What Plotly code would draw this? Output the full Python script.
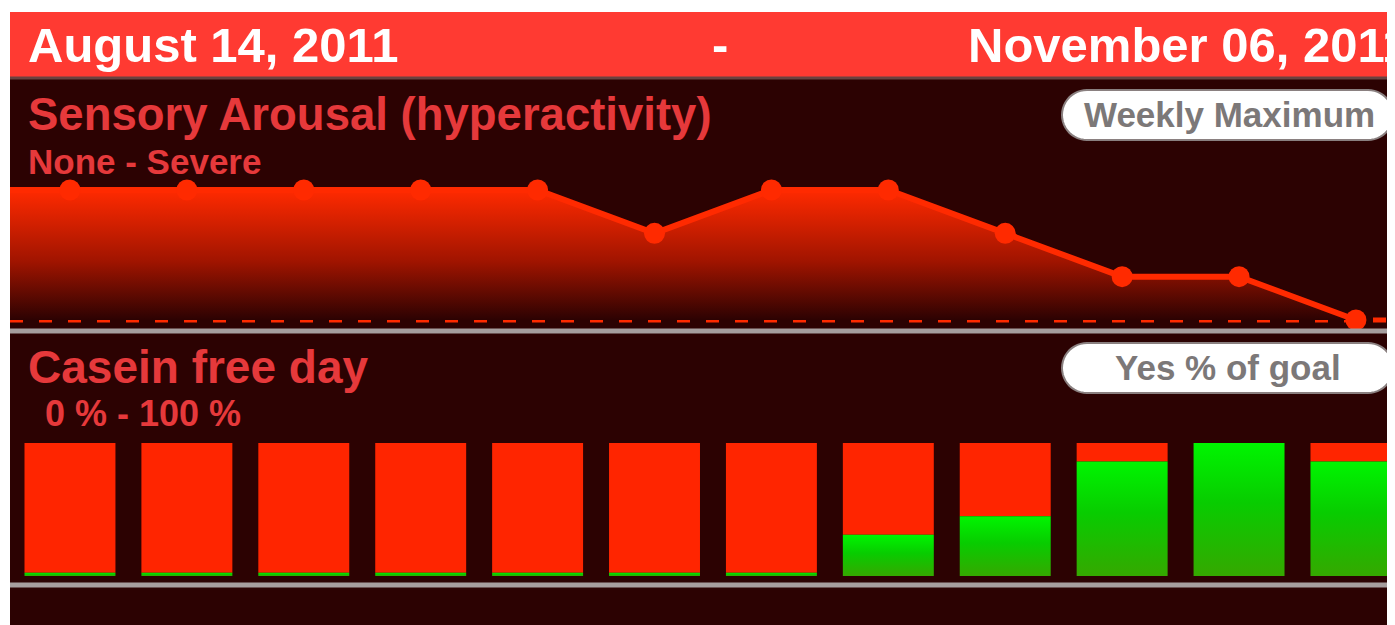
import plotly.graph_objects as go

# ---------------- data ----------------
weeks = ["Aug 14", "Aug 21", "Aug 28", "Sep 04", "Sep 11", "Sep 18",
         "Sep 25", "Oct 02", "Oct 09", "Oct 16", "Oct 23", "Oct 30"]
arousal_max = [3, 3, 3, 3, 3, 2, 3, 3, 2, 1, 1, 0]   # 0 = None ... 3 = Severe
arousal_prev_week = 3                                 # value before the first week (line enters from left)
casein_yes_pct = [2.5, 2.5, 2.5, 2.5, 2.5, 2.5, 2.5, 31, 45, 86, 100, 86]

date_start = "August 14, 2011"
date_end = "November 06, 2011"
title1 = "Sensory Arousal (hyperactivity)"
sub1 = "None - Severe"
pill1 = "Weekly Maximum"
title2 = "Casein free day"
sub2 = "0 % - 100 %"
pill2 = "Yes % of goal"

# ---------------- geometry helpers ----------------
# the page body has an 8px margin, so the figure starts at page pixel (8, 8)
OFF = 8
W, H = 1395 - OFF, 625 - OFF


def px(x):
    return (x - OFF) / W


def py(y):
    return 1 - (y - OFF) / H


RED = "#ff2a00"
DARK = "#2c0202"
TXT_RED = "#e6393b"
FONT = "Liberation Sans, Arial, Helvetica, sans-serif"

xi = list(range(len(weeks)))
x_range = [-0.513, 11.334]

fig = go.Figure()

# --- top panel: area with gradient ---
fig.add_trace(go.Scatter(
    x=[-1] + xi, y=[arousal_prev_week] + arousal_max,
    mode="lines", line=dict(color=RED, width=6),
    fill="tozeroy",
    fillgradient=dict(type="vertical",
                      colorscale=[[0, DARK], [0.45, "#a01400"], [1, RED]],
                      start=0, stop=3),
    xaxis="x", yaxis="y", hoverinfo="skip", showlegend=False))
fig.add_trace(go.Scatter(
    x=xi, y=arousal_max, mode="markers",
    marker=dict(color=RED, size=21, line=dict(width=0)),
    cliponaxis=False, xaxis="x", yaxis="y", showlegend=False,
    text=weeks))

# --- bottom panel: stacked bars ---
bw = 0.778
fig.add_trace(go.Bar(
    x=xi, y=[100 - g for g in casein_yes_pct], base=casein_yes_pct,
    width=bw, marker=dict(color="#ff2500", line=dict(width=0)),
    xaxis="x2", yaxis="y2", showlegend=False))
for i, g in zip(xi, casein_yes_pct):
    fig.add_trace(go.Scatter(
        x=[i - bw / 2, i + bw / 2, i + bw / 2, i - bw / 2, i - bw / 2],
        y=[0, 0, g, g, 0], mode="lines", line=dict(width=0),
        fill="toself",
        fillgradient=dict(type="vertical",
                          colorscale=[[0, "#35a800"], [0.55, "#08cc00"], [1, "#00f500"]]),
        xaxis="x2", yaxis="y2", hoverinfo="skip", showlegend=False))

# ---------------- layout / chrome ----------------
shapes = [
    # dark body
    dict(type="rect", xref="paper", yref="paper", x0=px(10), x1=1, y0=0, y1=py(77),
         fillcolor=DARK, line=dict(width=0), layer="below"),
    # header band
    dict(type="rect", xref="paper", yref="paper", x0=px(10), x1=1, y0=py(77), y1=py(12),
         fillcolor="#ff3a32", line=dict(width=0), layer="below"),
    dict(type="line", xref="paper", yref="paper", x0=px(10), x1=1, y0=py(78), y1=py(78),
         line=dict(color="#6a4240", width=3), layer="below"),
    # baseline dashed
    dict(type="line", xref="paper", yref="y", x0=px(10), x1=1, y0=0, y1=0,
         line=dict(color=RED, width=5, dash="13px,16px"), layer="below"),
    # separators
    dict(type="line", xref="paper", yref="paper", x0=px(10), x1=1, y0=py(331), y1=py(331),
         line=dict(color="#a69e9e", width=5)),
    dict(type="line", xref="paper", yref="paper", x0=px(10), x1=1, y0=py(585), y1=py(585),
         line=dict(color="#a69e9e", width=5)),
]


def pill_path(x0, y0, x1, y1, r):
    import math
    pts = []
    corners = [(x1 - r, y0 + r, -90, 0), (x1 - r, y1 - r, 0, 90),
               (x0 + r, y1 - r, 90, 180), (x0 + r, y0 + r, 180, 270)]
    for cx, cy, a0, a1 in corners:
        for k in range(13):
            a = math.radians(a0 + (a1 - a0) * k / 12)
            pts.append((cx + r * math.cos(a), cy + r * math.sin(a)))
    d = "M " + " L ".join(f"{px(x):.5f},{py(y):.5f}" for x, y in pts) + " Z"
    return d


for (y0, y1) in [(90, 140), (343, 393)]:
    shapes.append(dict(type="path", xref="paper", yref="paper",
                       path=pill_path(1062, y0, 1393, y1, 25),
                       fillcolor="white", line=dict(color="#8a8080", width=2)))

annotations = []


def txt(text, x, y, size, color, anchor="left"):
    annotations.append(dict(text=text, x=px(x), y=py(y), xref="paper", yref="paper",
                            xanchor=anchor, yanchor="middle", showarrow=False,
                            font=dict(family=FONT, size=size, color=color, weight="bold")))


txt(date_start, 26, 45, 49, "white")
txt("-", 720, 45, 49, "white", "center")
txt(date_end, 966, 45, 49, "white")
txt(title1, 26, 115, 45.5, TXT_RED)
txt(sub1, 26, 161, 35, TXT_RED)
txt(pill1, 1229, 115, 35, "#7c7878", "center")
txt(title2, 26, 367, 46, TXT_RED)
txt(sub2, 43, 413, 36, TXT_RED)
txt(pill2, 1228, 368, 35, "#7c7878", "center")

axis_common = dict(showgrid=False, zeroline=False, showticklabels=False,
                   ticks="", showline=False, fixedrange=True)

fig.update_layout(
    width=W, height=H,
    margin=dict(l=0, r=0, t=0, b=0),
    paper_bgcolor="white", plot_bgcolor="rgba(0,0,0,0)",
    showlegend=False,
    xaxis=dict(domain=[px(10), 1], range=x_range, **axis_common),
    yaxis=dict(domain=[py(330), py(170)], range=[-10 / 43.33, 3 + 20 / 43.33], **axis_common),
    xaxis2=dict(domain=[px(10), 1], range=x_range, anchor="y2", **axis_common),
    yaxis2=dict(domain=[py(576), py(443)], range=[0, 100], anchor="x2", **axis_common),
    shapes=shapes, annotations=annotations,
    barmode="overlay",
)

fig.write_html("out.html")
